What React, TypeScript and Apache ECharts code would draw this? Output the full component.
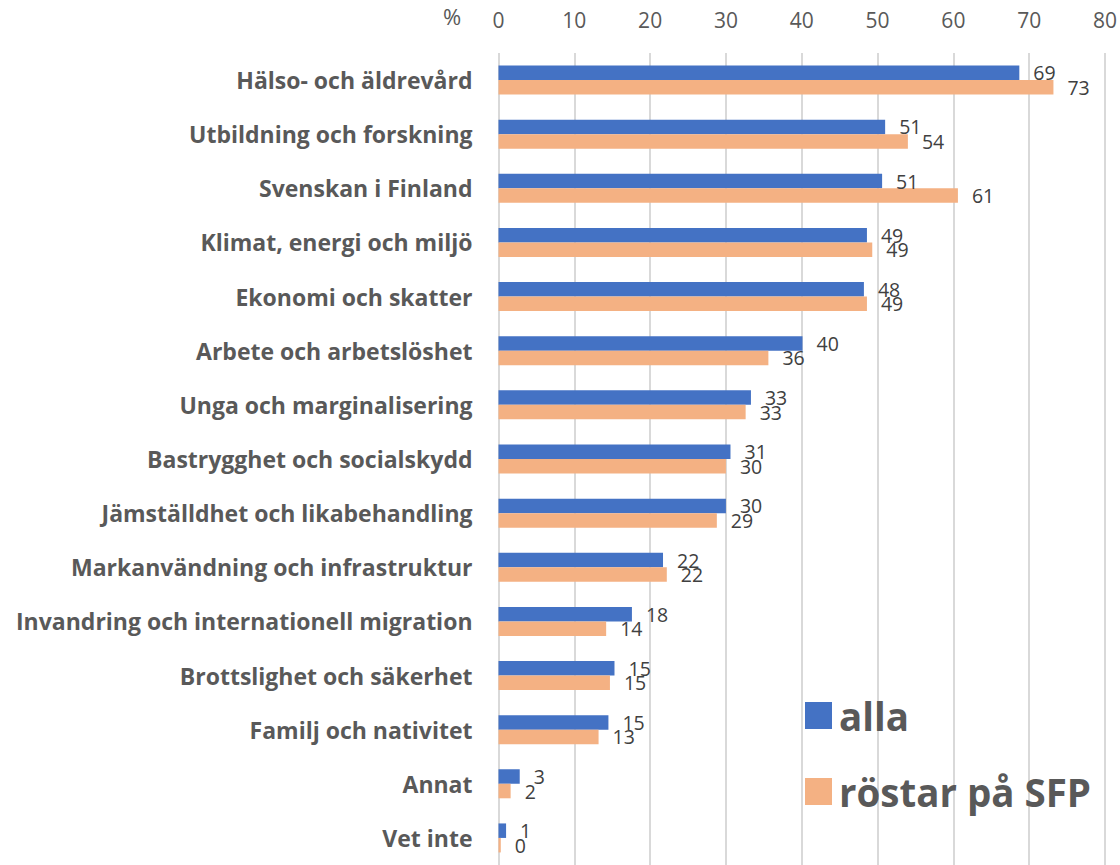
import React, { useEffect, useRef } from "react";
import * as echarts from "echarts";

const categories = [
  "Hälso- och äldrevård",
  "Utbildning och forskning",
  "Svenskan i Finland",
  "Klimat, energi och miljö",
  "Ekonomi och skatter",
  "Arbete och arbetslöshet",
  "Unga och marginalisering",
  "Bastrygghet och socialskydd",
  "Jämställdhet och likabehandling",
  "Markanvändning och infrastruktur",
  "Invandring och internationell migration",
  "Brottslighet och säkerhet",
  "Familj och nativitet",
  "Annat",
  "Vet inte",
];

const alla = [68.7, 51.0, 50.6, 48.6, 48.2, 40.1, 33.3, 30.6, 30.0, 21.7, 17.6, 15.3, 14.5, 2.8, 1.0];
const sfp = [73.2, 54.0, 60.6, 49.3, 48.6, 35.6, 32.6, 30.0, 28.8, 22.2, 14.2, 14.7, 13.2, 1.6, 0.3];

const seriesNames = ["alla", "röstar på SFP"];
const xTicks = { min: 0, max: 80, interval: 10 };

const FONT = "'Open Sans', 'Noto Sans', sans-serif";

export default function App() {
  const ref = useRef<HTMLDivElement>(null);
  useEffect(() => {
    if (!ref.current) return;
    const chart = echarts.init(ref.current, undefined, { renderer: "svg" });
    const label = {
      show: true,
      position: "right",
      distance: 14,
      color: "#404040",
      fontSize: 19.5,
      fontFamily: FONT,
      formatter: (p: any) => String(Math.round(p.value)),
    };
    chart.setOption({
      animation: false,
      backgroundColor: "#ffffff",
      grid: { left: 498.5, right: 14, top: 53, height: 816, containLabel: false },
      xAxis: {
        type: "value",
        position: "top",
        min: xTicks.min,
        max: xTicks.max,
        interval: xTicks.interval,
        axisLine: { show: false },
        axisTick: { show: false },
        axisLabel: { color: "#595959", fontSize: 21, fontFamily: FONT, margin: 23 },
        splitLine: { show: true, lineStyle: { color: "#D9D9D9", width: 2 } },
      },
      yAxis: {
        type: "category",
        inverse: true,
        data: categories,
        axisLine: { show: false },
        axisTick: { show: false },
        axisLabel: {
          color: "#595959",
          fontSize: 23,
          fontWeight: "bold",
          fontFamily: FONT,
          margin: 26,
        },
      },
      legend: {
        orient: "vertical",
        left: 800,
        top: 691,
        itemWidth: 27,
        itemHeight: 27,
        itemGap: 37,
        icon: "rect",
        data: seriesNames,
        textStyle: { color: "#595959", fontSize: 38.5, fontWeight: "bold", fontFamily: FONT, padding: [0, 0, 0, 2] },
      },
      graphic: [
        {
          type: "text",
          left: 443,
          top: 5,
          style: { text: "%", fill: "#595959", font: `22px ${FONT}` },
        },
      ],
      series: [
        {
          name: seriesNames[0],
          type: "bar",
          data: alla,
          barWidth: 14.5,
          barGap: "0%",
          itemStyle: { color: "#4472C4" },
          label,
        },
        {
          name: seriesNames[1],
          type: "bar",
          data: sfp,
          barWidth: 14.5,
          barGap: "0%",
          itemStyle: { color: "#F4B183" },
          label,
        },
      ],
    });
    return () => chart.dispose();
  }, []);
  return (
    <div
      ref={ref}
      style={{ position: "absolute", left: 0, top: 0, width: 1120, height: 865 }}
    />
  );
}
